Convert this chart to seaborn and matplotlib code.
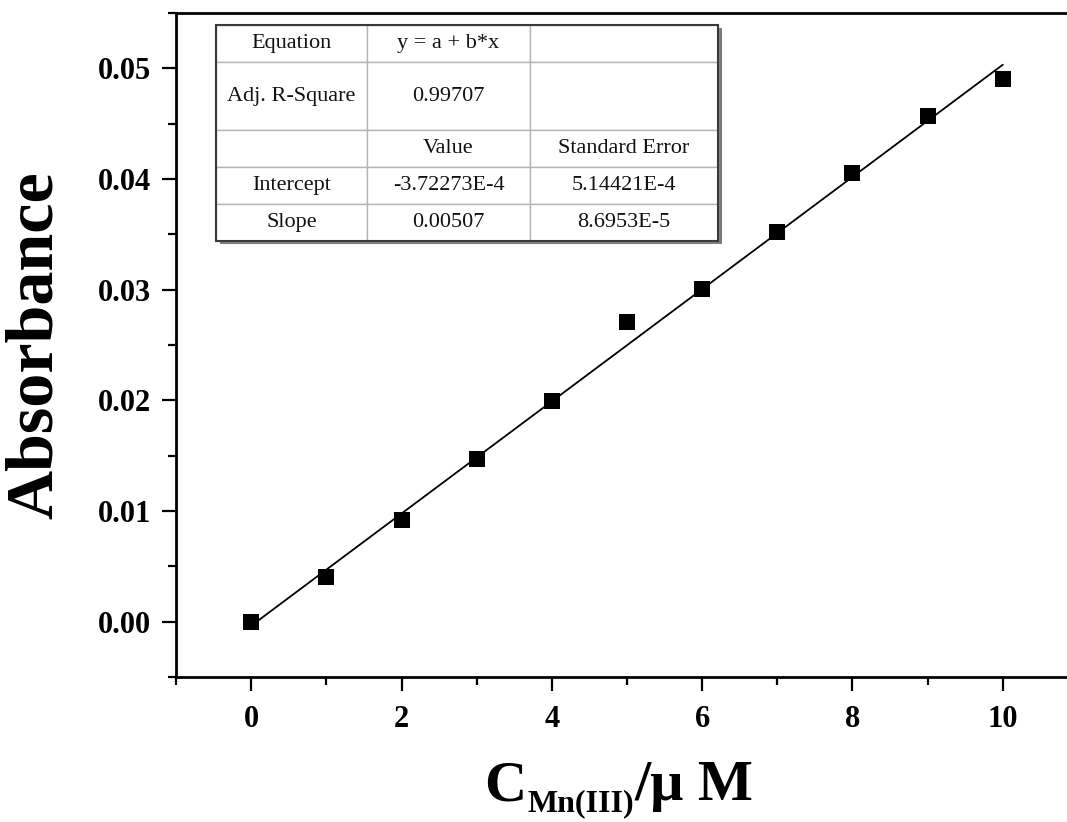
import numpy as np
import pandas as pd
import matplotlib
matplotlib.use("Agg")
import matplotlib.pyplot as plt
from matplotlib.ticker import MultipleLocator, FormatStrFormatter
from matplotlib.patches import Rectangle
import seaborn as sns

# ---- data ----
conc = [0, 1, 2, 3, 4, 5, 6, 7, 8, 9, 10]
absorbance = [0.0000, 0.0040, 0.0092, 0.0147, 0.0199, 0.0271, 0.0301, 0.0352, 0.0405, 0.0457, 0.0490]
fit_intercept = -3.72273e-4
fit_slope = 0.00507
fit_x = [0, 10]
table_rows = [
    ["Equation", "y = a + b*x", ""],
    ["Adj. R-Square", "0.99707", ""],
    ["", "Value", "Standard Error"],
    ["Intercept", "-3.72273E-4", "5.14421E-4"],
    ["Slope", "0.00507", "8.6953E-5"],
]
x_ticks = [0, 2, 4, 6, 8, 10]
y_ticks = [0.00, 0.01, 0.02, 0.03, 0.04, 0.05]
y_label = "Absorbance"
x_label_main = "C"
x_label_sub = "Mn(III)"
x_label_tail = "/μ M"

sns.set_theme(style="ticks")
plt.rcParams['font.family'] = ['Liberation Serif', 'DejaVu Serif']
plt.rcParams['text.color'] = 'black'
plt.rcParams['axes.labelcolor'] = 'black'

W, H = 1067, 822
fig = plt.figure(figsize=(W/100, H/100), dpi=100)
ax = fig.add_axes([176/W, 1-677/H, 902/W, 664/H])

df = pd.DataFrame({"x": conc, "y": absorbance})
fit_df = pd.DataFrame({"x": fit_x, "y": [fit_intercept + fit_slope*v for v in fit_x]})

sns.lineplot(data=fit_df, x="x", y="y", ax=ax, color="black", linewidth=1.3, zorder=2)
sns.scatterplot(data=df, x="x", y="y", ax=ax, marker="s", s=118, color="black",
                edgecolor="black", linewidth=0, zorder=3)

ax.set_xlim(-1, 11)
ax.set_ylim(-0.005, 0.055)
ax.set_xticks(x_ticks)
ax.set_yticks(y_ticks)
ax.xaxis.set_minor_locator(MultipleLocator(1))
ax.yaxis.set_minor_locator(MultipleLocator(0.005))
ax.yaxis.set_major_formatter(FormatStrFormatter('%.2f'))
ax.tick_params(which='major', direction='out', length=10, width=1.6, pad=8,
               labelsize=22, colors='black')
ax.tick_params(axis='x', which='major', pad=10)
ax.tick_params(which='minor', direction='out', length=6, width=1.6, colors='black')
for lab in ax.get_xticklabels() + ax.get_yticklabels():
    lab.set_fontweight('bold')
for sp in ax.spines.values():
    sp.set_linewidth(2)
    sp.set_color('black')

ax.set_ylabel(y_label, fontsize=49, fontweight='bold', color='black')
ax.yaxis.set_label_coords(-0.122, 0.5)
ax.set_xlabel("")

# x label built from pieces (main letter, subscript, tail)
renderer = fig.canvas.get_renderer()
t1 = fig.text(484/W, 1-800/H, x_label_main, fontsize=42, fontweight='bold',
              va='baseline', ha='left', color='black')
bb1 = t1.get_window_extent(renderer)
t2 = fig.text((bb1.x1 + 1)/W, 1-811/H, x_label_sub, fontsize=23, fontweight='bold',
              va='baseline', ha='left', color='black')
bb2 = t2.get_window_extent(renderer)
t3 = fig.text((bb2.x1 + 1)/W, 1-800/H, x_label_tail, fontsize=42, fontweight='bold',
              va='baseline', ha='left', color='black')

# ---- table ----
tx0, tx1 = (216-176)/902, (718-176)/902
ty1, ty0 = 1-(25-13)/664, 1-(241-13)/664
colw = [151, 163, 188]
tot = sum(colw)
tbl = ax.table(cellText=table_rows, colWidths=[c/tot for c in colw], cellLoc='center',
               bbox=[tx0, ty0, tx1-tx0, ty1-ty0])
tbl.auto_set_font_size(False)
tbl.set_fontsize(16)
rowh = [1, 1.85, 1, 1, 1]
for (r, c), cell in tbl.get_celld().items():
    cell.set_height(rowh[r])
    cell.set_edgecolor('#b5b5b5')
    cell.set_linewidth(1.0)
    cell.set_facecolor('white')
    cell.get_text().set_fontfamily('Liberation Serif')
    cell.get_text().set_color('#111111')
tbl.set_zorder(5)
shadow = Rectangle((tx0 + 0.004, ty0 - 0.005), tx1 - tx0, ty1 - ty0, transform=ax.transAxes,
                   facecolor='#7a7a7a', edgecolor='none', zorder=4)
ax.add_patch(shadow)
outline = Rectangle((tx0, ty0), tx1 - tx0, ty1 - ty0, transform=ax.transAxes,
                    facecolor='none', edgecolor='#3a3a3a', linewidth=1.5, zorder=6)
ax.add_patch(outline)

fig.savefig("out.png", dpi=100)
